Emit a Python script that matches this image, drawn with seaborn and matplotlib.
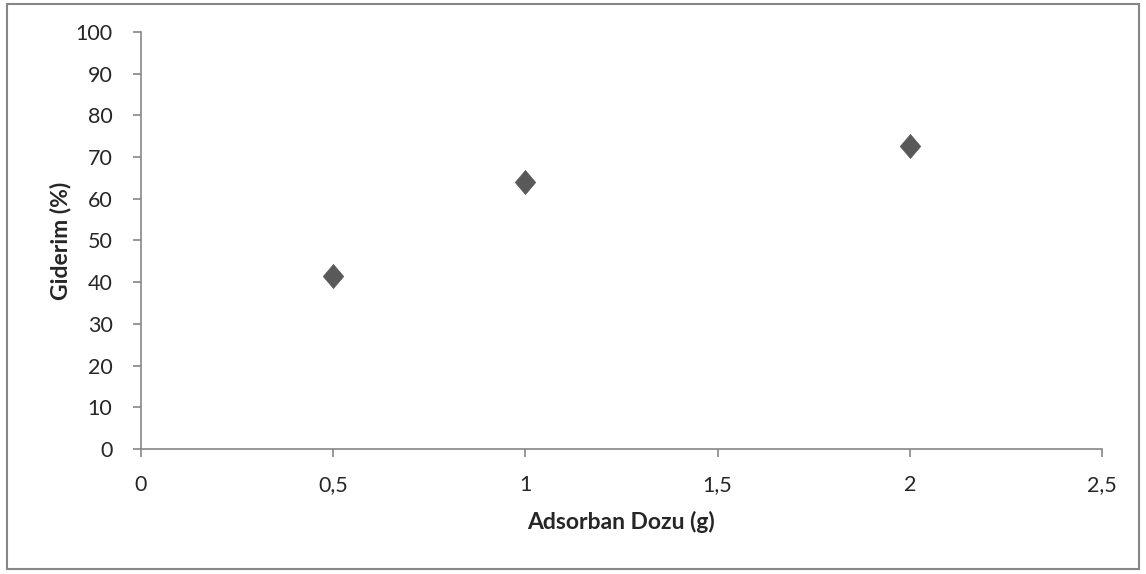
import matplotlib
matplotlib.use("Agg")
import matplotlib.pyplot as plt
from matplotlib.patches import Rectangle
import seaborn as sns
import pandas as pd

# Adsorbent dose vs. removal efficiency
dose_g = [0.5, 1.0, 2.0]
removal_pct = [41.6, 64.1, 72.7]

x_ticks = [0, 0.5, 1, 1.5, 2, 2.5]
x_tick_labels = ["0", "0,5", "1", "1,5", "2", "2,5"]
y_ticks = [0, 10, 20, 30, 40, 50, 60, 70, 80, 90, 100]

df = pd.DataFrame({"dose": dose_g, "removal": removal_pct})

sns.set_style("white")
plt.rcParams["font.family"] = ["Lato", "DejaVu Sans"]

fig = plt.figure(figsize=(11.46, 5.74), dpi=100)
ax = fig.add_axes([0.123, 0.2178, 0.8386, 0.7265])

diamond = [(0, 1), (0.85, 0), (0, -1), (-0.85, 0), (0, 1)]
sns.scatterplot(data=df, x="dose", y="removal", ax=ax, marker=diamond,
                s=300, color="#595959", edgecolor="#595959", linewidth=0.5,
                legend=False, zorder=3)

axis_color = "#868686"
text_color = "#262626"
ax.set_xlim(0, 2.5)
ax.set_ylim(0, 100)
ax.set_xticks(x_ticks)
ax.set_xticklabels(x_tick_labels)
ax.set_yticks(y_ticks)
for side in ("top", "right"):
    ax.spines[side].set_visible(False)
for side in ("left", "bottom"):
    ax.spines[side].set_color(axis_color)
    ax.spines[side].set_linewidth(1.2)
ax.tick_params(axis="both", which="major", direction="out", length=5.5,
               width=1.2, color=axis_color, labelsize=15.5, labelcolor=text_color,
               bottom=True, left=True)
ax.tick_params(axis="x", pad=13)
ax.tick_params(axis="y", pad=15)
ax.grid(False)

ax.set_xlabel("Adsorban Dozu (g)", fontsize=16.5, fontweight="bold",
              color=text_color, labelpad=12)
ax.set_ylabel("Giderim (%)", fontsize=16.5, fontweight="bold",
              color=text_color, labelpad=3)

# outer chart frame
fig.patches.append(Rectangle((0.006, 0.008), 0.988, 0.985,
                             transform=fig.transFigure, fill=False,
                             edgecolor="#868686", linewidth=1.5))

fig.savefig("out.png", dpi=100, facecolor="white")
